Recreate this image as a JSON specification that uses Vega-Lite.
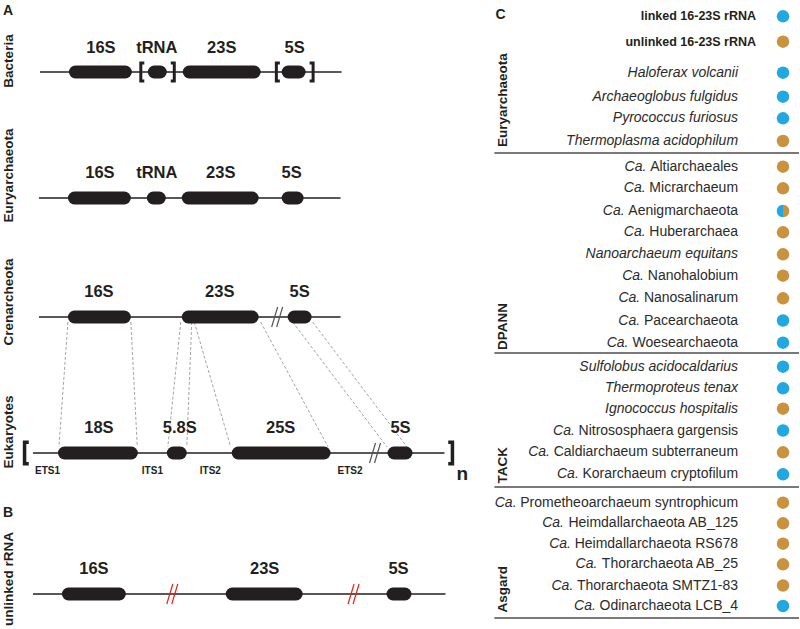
{
  "$schema": "https://vega.github.io/schema/vega-lite/v6.json",
  "width": 800,
  "height": 629,
  "padding": 0,
  "autosize": {"type": "fit", "contains": "padding"},
  "background": "white",
  "config": {"view": {"stroke": null}, "font": "Liberation Sans", "text": {"font": "Liberation Sans", "color": "#231F20"}},
  "datasets": {
    "backbones": [
      {"row": "Bacteria", "x1": 40, "x2": 342, "y": 72},
      {"row": "Euryarchaeota", "x1": 39, "x2": 341, "y": 198},
      {"row": "Crenarcheota", "x1": 39, "x2": 341, "y": 317},
      {"row": "Eukaryotes", "x1": 33, "x2": 445, "y": 453},
      {"row": "unlinked rRNA", "x1": 33, "x2": 446, "y": 594}
    ],
    "genes": [
      {"row": "Bacteria", "gene": "16S", "start": 69, "end": 132, "y": 72, "labelX": 101, "labelY": 53},
      {"row": "Bacteria", "gene": "tRNA", "start": 148, "end": 167, "y": 72, "labelX": 157, "labelY": 53},
      {"row": "Bacteria", "gene": "23S", "start": 183, "end": 261, "y": 72, "labelX": 222, "labelY": 53},
      {"row": "Bacteria", "gene": "5S", "start": 282, "end": 306, "y": 72, "labelX": 295, "labelY": 53},
      {"row": "Euryarchaeota", "gene": "16S", "start": 68, "end": 131, "y": 198, "labelX": 100, "labelY": 178},
      {"row": "Euryarchaeota", "gene": "tRNA", "start": 147, "end": 166, "y": 198, "labelX": 157, "labelY": 178},
      {"row": "Euryarchaeota", "gene": "23S", "start": 182, "end": 259, "y": 198, "labelX": 221, "labelY": 178},
      {"row": "Euryarchaeota", "gene": "5S", "start": 282, "end": 304, "y": 198, "labelX": 292, "labelY": 178},
      {"row": "Crenarcheota", "gene": "16S", "start": 68, "end": 131, "y": 317, "labelX": 99, "labelY": 297},
      {"row": "Crenarcheota", "gene": "23S", "start": 182, "end": 259, "y": 317, "labelX": 220, "labelY": 297},
      {"row": "Crenarcheota", "gene": "5S", "start": 288, "end": 312, "y": 317, "labelX": 300, "labelY": 297},
      {"row": "Eukaryotes", "gene": "18S", "start": 58, "end": 138, "y": 453, "labelX": 99, "labelY": 433},
      {"row": "Eukaryotes", "gene": "5.8S", "start": 167, "end": 187, "y": 453, "labelX": 180, "labelY": 433},
      {"row": "Eukaryotes", "gene": "25S", "start": 232, "end": 331, "y": 453, "labelX": 281, "labelY": 433},
      {"row": "Eukaryotes", "gene": "5S", "start": 388, "end": 413, "y": 453, "labelX": 401, "labelY": 433},
      {"row": "unlinked rRNA", "gene": "16S", "start": 62, "end": 126, "y": 594, "labelX": 94, "labelY": 574},
      {"row": "unlinked rRNA", "gene": "23S", "start": 226, "end": 303, "y": 594, "labelX": 265, "labelY": 574},
      {"row": "unlinked rRNA", "gene": "5S", "start": 387, "end": 412, "y": 594, "labelX": 399, "labelY": 574}
    ],
    "links": [
      {"x1": 68, "y1": 322, "x2": 59, "y2": 447},
      {"x1": 131, "y1": 322, "x2": 137.5, "y2": 447},
      {"x1": 181, "y1": 322, "x2": 168, "y2": 447},
      {"x1": 192, "y1": 322, "x2": 187, "y2": 447},
      {"x1": 194.5, "y1": 322, "x2": 231, "y2": 447},
      {"x1": 261, "y1": 322, "x2": 328.5, "y2": 447},
      {"x1": 293, "y1": 322, "x2": 387.5, "y2": 447},
      {"x1": 313, "y1": 322, "x2": 407.5, "y2": 447}
    ],
    "brackets": [
      {"row": "Bacteria", "kind": "open", "x": 143, "y": 72},
      {"row": "Bacteria", "kind": "close", "x": 172.5, "y": 72},
      {"row": "Bacteria", "kind": "open", "x": 278.7, "y": 72},
      {"row": "Bacteria", "kind": "close", "x": 311.5, "y": 72},
      {"row": "Eukaryotes", "kind": "open", "x": 27, "y": 453},
      {"row": "Eukaryotes", "kind": "close", "x": 450.6, "y": 453}
    ],
    "breaks": [
      {"panel": "A", "x": 277.5, "y": 317},
      {"panel": "A", "x": 375.5, "y": 453},
      {"panel": "B", "x": 172.5, "y": 594},
      {"panel": "B", "x": 354, "y": 594}
    ],
    "spacers": [
      {"text": "ETS1", "x": 35, "y": 474},
      {"text": "ITS1", "x": 142, "y": 474},
      {"text": "ITS2", "x": 200, "y": 474},
      {"text": "ETS2", "x": 338, "y": 474}
    ],
    "repeat": [{"text": "n", "x": 463, "y": 480}],
    "rowLabels": [
      {"label": "Bacteria", "x": 13.5, "y": 61},
      {"label": "Euryarchaeota", "x": 13.5, "y": 175.5},
      {"label": "Crenarcheota", "x": 13.5, "y": 302},
      {"label": "Eukaryotes", "x": 13.5, "y": 432},
      {"label": "unlinked rRNA", "x": 13.5, "y": 579}
    ],
    "letters": [
      {"letter": "A", "x": 3, "y": 15},
      {"letter": "B", "x": 3, "y": 517},
      {"letter": "C", "x": 496, "y": 19}
    ],
    "headers": [
      {"label": "linked 16-23S rRNA", "status": "linked", "y": 16.3},
      {"label": "unlinked 16-23S rRNA", "status": "unlinked", "y": 41.7}
    ],
    "groups": [
      {"group": "Euryarchaeota", "y": 147},
      {"group": "DPANN", "y": 350},
      {"group": "TACK", "y": 483.5},
      {"group": "Asgard", "y": 612.5}
    ],
    "separators": [{"y": 153}, {"y": 353}, {"y": 487}, {"y": 618}],
    "taxa": [
      {"group": "Euryarchaeota", "label": "Haloferax volcanii", "ca": false, "status": "linked", "y": 72.7},
      {"group": "Euryarchaeota", "label": "Archaeoglobus fulgidus", "ca": false, "status": "linked", "y": 96.7},
      {"group": "Euryarchaeota", "label": "Pyrococcus furiosus", "ca": false, "status": "linked", "y": 118.3},
      {"group": "Euryarchaeota", "label": "Thermoplasma acidophilum", "ca": false, "status": "unlinked", "y": 141},
      {"group": "DPANN", "label": "Altiarchaeales", "ca": true, "caX": 647.2, "status": "unlinked", "y": 166.7},
      {"group": "DPANN", "label": "Micrarchaeum", "ca": true, "caX": 646.4, "status": "unlinked", "y": 188.3},
      {"group": "DPANN", "label": "Aenigmarchaeota", "ca": true, "caX": 625.4, "status": "both", "y": 211},
      {"group": "DPANN", "label": "Huberarchaea", "ca": true, "caX": 646.4, "status": "unlinked", "y": 232.3},
      {"group": "DPANN", "label": "Nanoarchaeum equitans", "ca": false, "status": "unlinked", "y": 254.3},
      {"group": "DPANN", "label": "Nanohalobium", "ca": true, "caX": 644.8, "status": "unlinked", "y": 275.7},
      {"group": "DPANN", "label": "Nanosalinarum", "ca": true, "caX": 641.0, "status": "unlinked", "y": 298.3},
      {"group": "DPANN", "label": "Pacearchaeota", "ca": true, "caX": 640.9, "status": "linked", "y": 320.5},
      {"group": "DPANN", "label": "Woesearchaeota", "ca": true, "caX": 629.3, "status": "linked", "y": 342.7},
      {"group": "TACK", "label": "Sulfolobus acidocaldarius", "ca": false, "status": "linked", "y": 366.7},
      {"group": "TACK", "label": "Thermoproteus tenax", "ca": false, "status": "linked", "y": 388.3},
      {"group": "TACK", "label": "Ignococcus hospitalis", "ca": false, "status": "unlinked", "y": 408.7},
      {"group": "TACK", "label": "Nitrososphaera gargensis", "ca": true, "caX": 575.6, "status": "linked", "y": 430.5},
      {"group": "TACK", "label": "Caldiarchaeum subterraneum", "ca": true, "caX": 550.7, "status": "unlinked", "y": 452.3},
      {"group": "TACK", "label": "Korarchaeum cryptofilum", "ca": true, "caX": 579.5, "status": "linked", "y": 474.3},
      {"group": "Asgard", "label": "Prometheoarchaeum syntrophicum", "ca": true, "caX": 517.2, "status": "unlinked", "y": 502.7},
      {"group": "Asgard", "label": "Heimdallarchaeota AB_125", "ca": true, "caX": 564.7, "status": "unlinked", "y": 523.3},
      {"group": "Asgard", "label": "Heimdallarchaeota RS678", "ca": true, "caX": 571.7, "status": "unlinked", "y": 543.7},
      {"group": "Asgard", "label": "Thorarchaeota AB_25", "ca": true, "caX": 598.1, "status": "unlinked", "y": 564.3},
      {"group": "Asgard", "label": "Thorarchaeota SMTZ1-83", "ca": true, "caX": 574.0, "status": "unlinked", "y": 585.5},
      {"group": "Asgard", "label": "Odinarchaeota LCB_4", "ca": true, "caX": 596.6, "status": "linked", "y": 606}
    ]
  },
  "layer": [
    {
      "data": {"name": "links"},
      "mark": {"type": "rule", "color": "#8C8C8C", "strokeWidth": 0.8, "strokeDash": [3, 2]},
      "encoding": {
        "x": {"field": "x1", "type": "quantitative", "scale": {"domain": [0, 800], "nice": false, "zero": false}, "axis": null},
        "y": {"field": "y1", "type": "quantitative", "scale": {"domain": [0, 629], "reverse": true, "nice": false, "zero": false}, "axis": null},
        "x2": {"field": "x2"},
        "y2": {"field": "y2"}
      }
    },
    {
      "data": {"name": "backbones"},
      "mark": {"type": "rule", "color": "#231F20", "strokeWidth": 1.3},
      "encoding": {
        "x": {"field": "x1", "type": "quantitative", "scale": {"domain": [0, 800], "nice": false, "zero": false}, "axis": null},
        "x2": {"field": "x2"},
        "y": {"field": "y", "type": "quantitative", "scale": {"domain": [0, 629], "reverse": true, "nice": false, "zero": false}, "axis": null}
      }
    },
    {
      "data": {"name": "genes"},
      "mark": {"type": "rule", "color": "#231F20", "strokeWidth": 13, "strokeCap": "round", "xOffset": 6.5, "x2Offset": -6.5},
      "encoding": {
        "x": {"field": "start", "type": "quantitative", "scale": {"domain": [0, 800], "nice": false, "zero": false}, "axis": null},
        "x2": {"field": "end"},
        "y": {"field": "y", "type": "quantitative", "scale": {"domain": [0, 629], "reverse": true, "nice": false, "zero": false}, "axis": null}
      }
    },
    {
      "data": {"name": "breaks"},
      "mark": {"type": "point", "filled": false, "shape": "M -0.55 1 L 0.05 -1 M -0.05 1 L 0.55 -1", "size": 400, "strokeWidth": 1.2, "opacity": 1},
      "encoding": {
        "x": {"field": "x", "type": "quantitative", "scale": {"domain": [0, 800], "nice": false, "zero": false}, "axis": null},
        "y": {"field": "y", "type": "quantitative", "scale": {"domain": [0, 629], "reverse": true, "nice": false, "zero": false}, "axis": null},
        "stroke": {"field": "panel", "type": "nominal", "scale": {"domain": ["A", "B"], "range": ["#555555", "#E2231A"]}, "legend": null}
      }
    },
    {
      "data": {"name": "brackets"},
      "transform": [{"filter": "datum.row === 'Bacteria'"}],
      "mark": {"type": "point", "filled": false, "size": 400, "strokeWidth": 3, "strokeJoin": "miter", "strokeCap": "butt", "color": "#231F20", "opacity": 1},
      "encoding": {
        "x": {"field": "x", "type": "quantitative", "scale": {"domain": [0, 800], "nice": false, "zero": false}, "axis": null},
        "y": {"field": "y", "type": "quantitative", "scale": {"domain": [0, 629], "reverse": true, "nice": false, "zero": false}, "axis": null},
        "shape": {"field": "kind", "type": "nominal", "scale": {"domain": ["open", "close"], "range": ["M 0.15 -0.9 L -0.2 -0.9 L -0.2 0.9 L 0.15 0.9", "M -0.15 -0.9 L 0.2 -0.9 L 0.2 0.9 L -0.15 0.9"]}, "legend": null}
      }
    },
    {
      "data": {"name": "brackets"},
      "transform": [{"filter": "datum.row === 'Eukaryotes'"}],
      "mark": {"type": "point", "filled": false, "size": 576, "strokeWidth": 3.5, "strokeJoin": "miter", "strokeCap": "butt", "color": "#231F20", "opacity": 1},
      "encoding": {
        "x": {"field": "x", "type": "quantitative", "scale": {"domain": [0, 800], "nice": false, "zero": false}, "axis": null},
        "y": {"field": "y", "type": "quantitative", "scale": {"domain": [0, 629], "reverse": true, "nice": false, "zero": false}, "axis": null},
        "shape": {"field": "kind", "type": "nominal", "scale": {"domain": ["open", "close"], "range": ["M 0.15 -0.9 L -0.2 -0.9 L -0.2 0.9 L 0.15 0.9", "M -0.15 -0.9 L 0.2 -0.9 L 0.2 0.9 L -0.15 0.9"]}, "legend": null}
      }
    },
    {
      "data": {"name": "genes"},
      "mark": {"type": "text", "fontWeight": "bold", "fontSize": 16.5, "align": "center", "baseline": "alphabetic", "color": "#231F20"},
      "encoding": {
        "x": {"field": "labelX", "type": "quantitative", "scale": {"domain": [0, 800], "nice": false, "zero": false}, "axis": null},
        "y": {"field": "labelY", "type": "quantitative", "scale": {"domain": [0, 629], "reverse": true, "nice": false, "zero": false}, "axis": null},
        "text": {"field": "gene"}
      }
    },
    {
      "data": {"name": "spacers"},
      "mark": {"type": "text", "fontWeight": "bold", "fontSize": 10, "align": "left", "baseline": "alphabetic", "color": "#231F20"},
      "encoding": {
        "x": {"field": "x", "type": "quantitative", "scale": {"domain": [0, 800], "nice": false, "zero": false}, "axis": null},
        "y": {"field": "y", "type": "quantitative", "scale": {"domain": [0, 629], "reverse": true, "nice": false, "zero": false}, "axis": null},
        "text": {"field": "text"}
      }
    },
    {
      "data": {"name": "repeat"},
      "mark": {"type": "text", "fontWeight": "bold", "fontSize": 19, "align": "center", "baseline": "alphabetic", "color": "#231F20"},
      "encoding": {
        "x": {"field": "x", "type": "quantitative", "scale": {"domain": [0, 800], "nice": false, "zero": false}, "axis": null},
        "y": {"field": "y", "type": "quantitative", "scale": {"domain": [0, 629], "reverse": true, "nice": false, "zero": false}, "axis": null},
        "text": {"field": "text"}
      }
    },
    {
      "data": {"name": "rowLabels"},
      "mark": {"type": "text", "fontWeight": "bold", "fontSize": 13.5, "angle": 270, "align": "center", "baseline": "alphabetic", "color": "#231F20"},
      "encoding": {
        "x": {"field": "x", "type": "quantitative", "scale": {"domain": [0, 800], "nice": false, "zero": false}, "axis": null},
        "y": {"field": "y", "type": "quantitative", "scale": {"domain": [0, 629], "reverse": true, "nice": false, "zero": false}, "axis": null},
        "text": {"field": "label"}
      }
    },
    {
      "data": {"name": "letters"},
      "mark": {"type": "text", "fontWeight": "bold", "fontSize": 14, "align": "left", "baseline": "alphabetic", "color": "#231F20"},
      "encoding": {
        "x": {"field": "x", "type": "quantitative", "scale": {"domain": [0, 800], "nice": false, "zero": false}, "axis": null},
        "y": {"field": "y", "type": "quantitative", "scale": {"domain": [0, 629], "reverse": true, "nice": false, "zero": false}, "axis": null},
        "text": {"field": "letter"}
      }
    },
    {
      "data": {"name": "separators"},
      "mark": {"type": "rule", "color": "#4D4D4D", "strokeWidth": 1.5},
      "encoding": {
        "x": {"datum": 495, "type": "quantitative", "scale": {"domain": [0, 800], "nice": false, "zero": false}, "axis": null},
        "x2": {"datum": 800},
        "y": {"field": "y", "type": "quantitative", "scale": {"domain": [0, 629], "reverse": true, "nice": false, "zero": false}, "axis": null}
      }
    },
    {
      "data": {"name": "groups"},
      "mark": {"type": "text", "fontWeight": "bold", "fontSize": 13.5, "angle": 270, "align": "left", "baseline": "alphabetic", "color": "#231F20"},
      "encoding": {
        "x": {"datum": 508, "type": "quantitative", "scale": {"domain": [0, 800], "nice": false, "zero": false}, "axis": null},
        "y": {"field": "y", "type": "quantitative", "scale": {"domain": [0, 629], "reverse": true, "nice": false, "zero": false}, "axis": null},
        "text": {"field": "group"}
      }
    },
    {
      "data": {"name": "headers"},
      "mark": {"type": "text", "fontWeight": "bold", "fontSize": 12.5, "align": "right", "baseline": "middle", "color": "#231F20"},
      "encoding": {
        "x": {"datum": 757, "type": "quantitative", "scale": {"domain": [0, 800], "nice": false, "zero": false}, "axis": null},
        "y": {"field": "y", "type": "quantitative", "scale": {"domain": [0, 629], "reverse": true, "nice": false, "zero": false}, "axis": null},
        "text": {"field": "label"}
      }
    },
    {
      "data": {"name": "headers"},
      "mark": {"type": "point", "shape": "circle", "filled": true, "size": 156, "strokeWidth": 0, "opacity": 1},
      "encoding": {
        "x": {"datum": 784, "type": "quantitative", "scale": {"domain": [0, 800], "nice": false, "zero": false}, "axis": null},
        "y": {"field": "y", "type": "quantitative", "scale": {"domain": [0, 629], "reverse": true, "nice": false, "zero": false}, "axis": null},
        "fill": {"field": "status", "type": "nominal", "scale": {"domain": ["linked", "unlinked"], "range": ["#21A8E0", "#C9923F"]}, "legend": null}
      }
    },
    {
      "data": {"name": "taxa"},
      "transform": [{"filter": "!datum.ca"}],
      "mark": {"type": "text", "fontStyle": "italic", "fontSize": 14, "align": "right", "baseline": "middle", "color": "#2B2B2B"},
      "encoding": {
        "x": {"datum": 739, "type": "quantitative", "scale": {"domain": [0, 800], "nice": false, "zero": false}, "axis": null},
        "y": {"field": "y", "type": "quantitative", "scale": {"domain": [0, 629], "reverse": true, "nice": false, "zero": false}, "axis": null},
        "text": {"field": "label"}
      }
    },
    {
      "data": {"name": "taxa"},
      "transform": [{"filter": "datum.ca"}],
      "mark": {"type": "text", "fontSize": 14, "align": "right", "baseline": "middle", "color": "#2B2B2B"},
      "encoding": {
        "x": {"datum": 739, "type": "quantitative", "scale": {"domain": [0, 800], "nice": false, "zero": false}, "axis": null},
        "y": {"field": "y", "type": "quantitative", "scale": {"domain": [0, 629], "reverse": true, "nice": false, "zero": false}, "axis": null},
        "text": {"field": "label"}
      }
    },
    {
      "data": {"name": "taxa"},
      "transform": [{"filter": "datum.ca"}],
      "mark": {"type": "text", "fontStyle": "italic", "fontSize": 14, "align": "right", "baseline": "middle", "color": "#2B2B2B"},
      "encoding": {
        "x": {"field": "caX", "type": "quantitative", "scale": {"domain": [0, 800], "nice": false, "zero": false}, "axis": null},
        "y": {"field": "y", "type": "quantitative", "scale": {"domain": [0, 629], "reverse": true, "nice": false, "zero": false}, "axis": null},
        "text": {"value": "Ca."}
      }
    },
    {
      "data": {"name": "taxa"},
      "transform": [{"filter": "datum.status !== 'both'"}],
      "mark": {"type": "point", "shape": "circle", "filled": true, "size": 156, "strokeWidth": 0, "opacity": 1},
      "encoding": {
        "x": {"datum": 784, "type": "quantitative", "scale": {"domain": [0, 800], "nice": false, "zero": false}, "axis": null},
        "y": {"field": "y", "type": "quantitative", "scale": {"domain": [0, 629], "reverse": true, "nice": false, "zero": false}, "axis": null},
        "fill": {"field": "status", "type": "nominal", "scale": {"domain": ["linked", "unlinked"], "range": ["#21A8E0", "#C9923F"]}, "legend": null}
      }
    },
    {
      "data": {"name": "taxa"},
      "transform": [{"filter": "datum.status === 'both'"}],
      "mark": {"type": "point", "shape": "M 0 -1 A 1 1 0 0 0 0 1 Z", "filled": true, "fill": "#21A8E0", "size": 156, "strokeWidth": 0, "opacity": 1},
      "encoding": {
        "x": {"datum": 784, "type": "quantitative", "scale": {"domain": [0, 800], "nice": false, "zero": false}, "axis": null},
        "y": {"field": "y", "type": "quantitative", "scale": {"domain": [0, 629], "reverse": true, "nice": false, "zero": false}, "axis": null}
      }
    },
    {
      "data": {"name": "taxa"},
      "transform": [{"filter": "datum.status === 'both'"}],
      "mark": {"type": "point", "shape": "M 0 -1 A 1 1 0 0 1 0 1 Z", "filled": true, "fill": "#C9923F", "size": 156, "strokeWidth": 0, "opacity": 1},
      "encoding": {
        "x": {"datum": 784, "type": "quantitative", "scale": {"domain": [0, 800], "nice": false, "zero": false}, "axis": null},
        "y": {"field": "y", "type": "quantitative", "scale": {"domain": [0, 629], "reverse": true, "nice": false, "zero": false}, "axis": null}
      }
    }
  ]
}
